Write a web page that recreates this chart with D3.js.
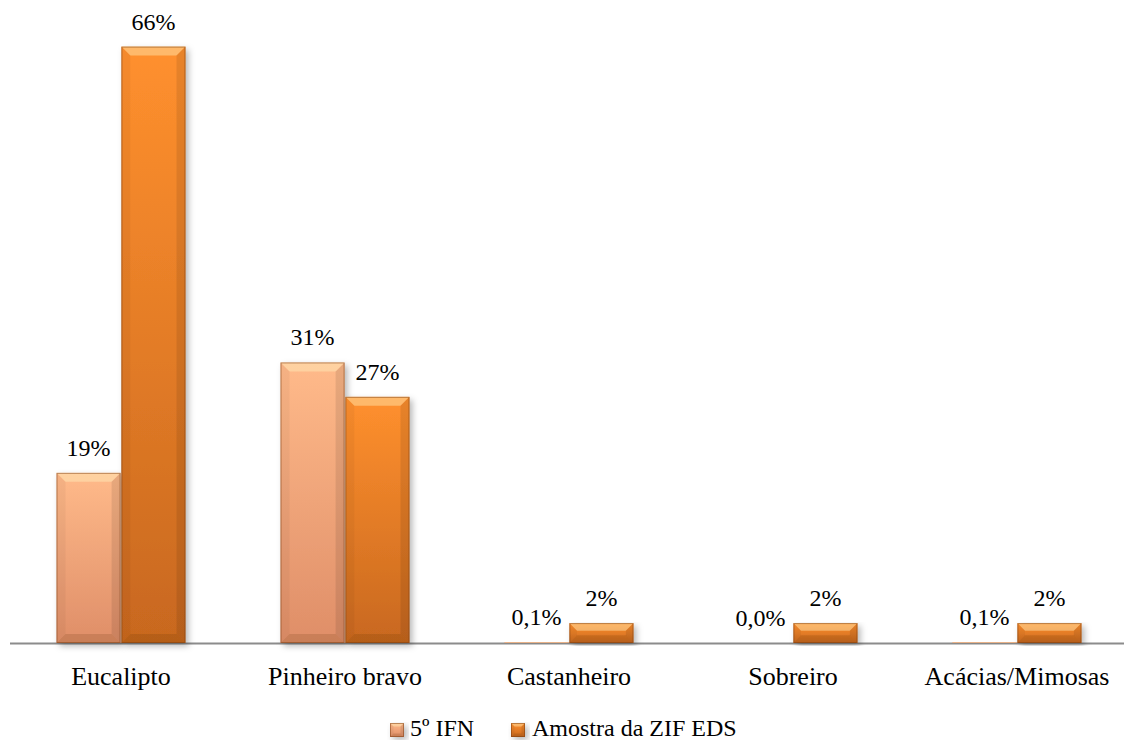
<!DOCTYPE html>
<html>
<head>
<meta charset="utf-8">
<script src="https://cdn.jsdelivr.net/npm/d3@7"></script>
<style>
  html, body { margin: 0; padding: 0; background: #fff; }
  svg { display: block; }
  text { font-family: "Liberation Serif", "Times New Roman", serif; fill: #000; }
</style>
</head>
<body>
<svg id="chart" width="1124" height="742"></svg>
<script>
// ---- data ----
const categories = ["Eucalipto", "Pinheiro bravo", "Castanheiro", "Sobreiro", "Acácias/Mimosas"];
const seriesNames = ["5º IFN", "Amostra da ZIF EDS"];
const ifnValues = [18.8, 31.0, 0.1, 0.0, 0.1];
const zifValues = [65.9, 27.2, 2.2, 2.2, 2.2];
const ifnLabels = ["19%", "31%", "0,1%", "0,0%", "0,1%"];
const zifLabels = ["66%", "27%", "2%", "2%", "2%"];

const seriesValues = [ifnValues, zifValues];
const seriesLabels = [ifnLabels, zifLabels];

const svg = d3.select("#chart");
const baseY = 643;

const x = d3.scaleBand().domain(categories).range([9, 1129]).padding(0);
const y = d3.scaleLinear().domain([0, 70]).range([baseY, baseY - 70 * 9.05]);
const groupHalf = 64.5;

// ---- defs ----
const defs = svg.append("defs");
const grads = [
  { id: "g0", top: "#FFBA8A", bot: "#DF8E68" },
  { id: "g1", top: "#FF902E", bot: "#C8681F" }
];
grads.forEach(g => {
  const lg = defs.append("linearGradient").attr("id", g.id)
    .attr("x1", 0).attr("y1", 0).attr("x2", 0).attr("y2", 1);
  lg.append("stop").attr("offset", "0%").attr("stop-color", g.top);
  lg.append("stop").attr("offset", "100%").attr("stop-color", g.bot);
});
const f = defs.append("filter").attr("id", "shadow")
  .attr("x", "-20%").attr("y", "-5%").attr("width", "150%").attr("height", "120%");
f.append("feDropShadow").attr("dx", 3).attr("dy", 3).attr("stdDeviation", 3)
  .attr("flood-color", "#000").attr("flood-opacity", 0.28);

// ---- axis line ----
svg.append("line")
  .attr("x1", 10).attr("x2", 1129)
  .attr("y1", baseY + 0.5).attr("y2", baseY + 0.5)
  .attr("stroke", "#8c8c8c").attr("stroke-width", 2);

function bevelBar(g, bx, by, w, h, gradId, bev) {
  if (h <= 0.5) return;
  const b = Math.min(bev, h / 2.6, w / 4);
  const grp = g.append("g");
  grp.append("rect").attr("x", bx).attr("y", by).attr("width", w).attr("height", h)
    .attr("fill", `url(#${gradId})`).attr("filter", "url(#shadow)");
  grp.append("polygon")
    .attr("points", [[bx, by], [bx + w, by], [bx + w - b, by + b], [bx + b, by + b]].join(" "))
    .attr("fill", "#fff3c0").attr("opacity", 0.42);
  grp.append("polygon")
    .attr("points", [[bx, by], [bx + b, by + b], [bx + b, by + h - b], [bx, by + h]].join(" "))
    .attr("fill", "#000").attr("opacity", 0.04);
  grp.append("polygon")
    .attr("points", [[bx + w, by], [bx + w - b, by + b], [bx + w - b, by + h - b], [bx + w, by + h]].join(" "))
    .attr("fill", "#000").attr("opacity", 0.09);
  grp.append("polygon")
    .attr("points", [[bx, by + h], [bx + b, by + h - b], [bx + w - b, by + h - b], [bx + w, by + h]].join(" "))
    .attr("fill", "#5a2a00").attr("opacity", 0.16);
  grp.append("rect").attr("x", bx + 0.5).attr("y", by + 0.5).attr("width", w - 1).attr("height", Math.max(0, h - 1))
    .attr("fill", "none").attr("stroke", "#7a3c10").attr("stroke-opacity", 0.5).attr("stroke-width", 1);
}

// ---- bars ----
const plot = svg.append("g");
categories.forEach((cat, i) => {
  const cx = x(cat) + x.bandwidth() / 2;
  const xs = d3.scaleBand().domain(seriesNames).range([cx - groupHalf, cx + groupHalf]).paddingInner(0.012);
  seriesNames.forEach((s, si) => {
    const v = seriesValues[si][i];
    const bx = xs(s), w = xs.bandwidth();
    const top = y(v);
    bevelBar(plot, bx, top, w, baseY - top, grads[si].id, 9);
    plot.append("text")
      .attr("x", bx + w / 2).attr("y", top - 17)
      .attr("text-anchor", "middle").attr("font-size", 24)
      .text(seriesLabels[si][i]);
  });
  plot.append("text")
    .attr("x", cx).attr("y", 685)
    .attr("text-anchor", "middle").attr("font-size", 26)
    .text(cat);
});

// ---- legend ----
const legendItems = [
  { name: seriesNames[0], grad: "g0", mx: 390, tx: 410 },
  { name: seriesNames[1], grad: "g1", mx: 511, tx: 532 }
];
const lg = svg.append("g");
legendItems.forEach(it => {
  bevelBar(lg, it.mx, 723, 14, 14, it.grad, 5);
  lg.append("text").attr("x", it.tx).attr("y", 736).attr("font-size", 24).text(it.name);
});
</script>
</body>
</html>
